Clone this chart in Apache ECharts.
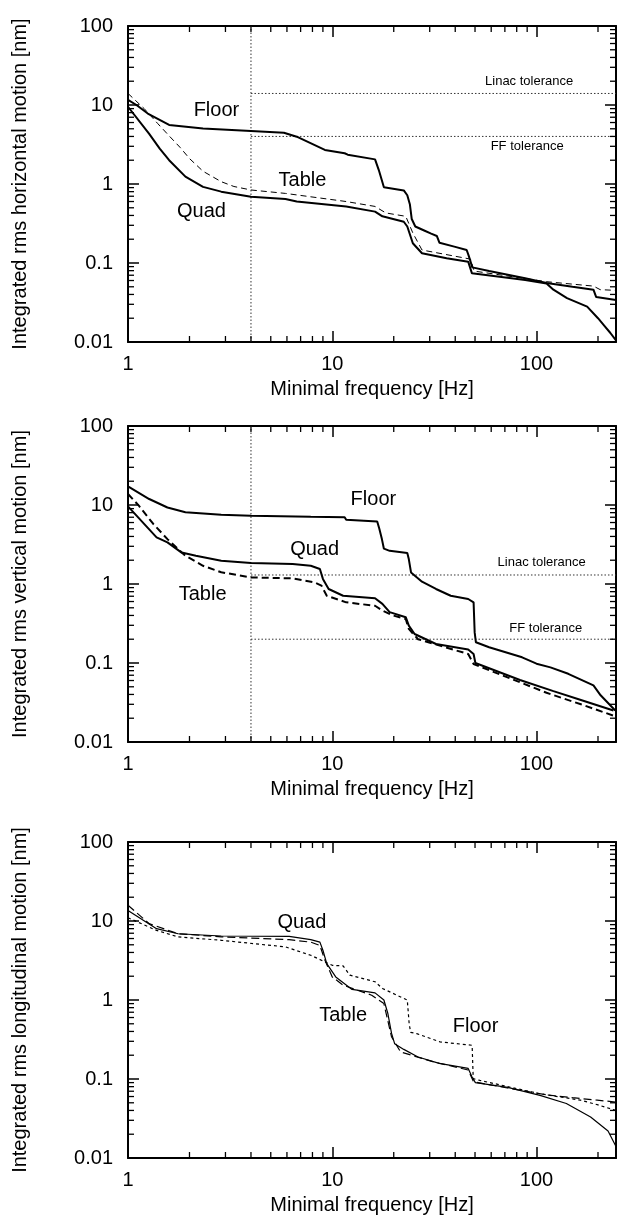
<!DOCTYPE html>
<html><head><meta charset="utf-8">
<script src="https://cdn.jsdelivr.net/npm/echarts@6/dist/echarts.min.js"></script>
<style>html,body{margin:0;padding:0;background:#fff}#c{width:621px;height:1226px}</style>
</head><body><div id="c"></div>
<script>
// ---------- axes ----------
const X_MIN = 1, X_MAX = 245, Y_MIN = 0.01, Y_MAX = 100;
const xTickLabels = ['1', '10', '100'];
const yTickLabels = ['0.01', '0.1', '1', '10', '100'];
const xMinorTicks = [2,3,4,5,6,7,8,9,20,30,40,50,60,70,80,90,200];
const yMinorTicks = [0.02,0.03,0.04,0.05,0.06,0.07,0.08,0.09,0.2,0.3,0.4,0.5,0.6,0.7,0.8,0.9,2,3,4,5,6,7,8,9,20,30,40,50,60,70,80,90];
const xTitle = 'Minimal frequency [Hz]';
const yTitles = ['Integrated rms horizontal motion [nm]', 'Integrated rms vertical motion [nm]', 'Integrated rms longitudinal motion [nm]'];

// ---------- panel 1: horizontal ----------
const hFloor = [[1,11.6],[1.1,10],[1.25,7.8],[1.59,5.6],[2.33,5.05],[4,4.7],[5.8,4.45],[6.7,3.97],[9.2,2.7],[11.5,2.45],[11.9,2.35],[16.2,2.05],[16.9,1.5],[17.9,0.91],[22.4,0.83],[23.3,0.72],[24,0.55],[24.5,0.36],[25.5,0.29],[28,0.26],[30.5,0.235],[32.5,0.22],[33.5,0.18],[40,0.16],[45.5,0.146],[46.5,0.125],[48.5,0.088],[58.6,0.079],[88,0.064],[112,0.056],[150,0.05],[190,0.046],[196,0.037],[245,0.034]];
const hQuad = [[1,9.5],[1.27,4.3],[1.43,2.8],[1.59,2.0],[1.91,1.24],[2.33,0.92],[2.86,0.8],[4,0.69],[5.9,0.645],[6.7,0.6],[11.7,0.52],[16.2,0.447],[17.6,0.39],[22.4,0.333],[23.3,0.29],[24.8,0.178],[27.5,0.133],[36.3,0.115],[46.3,0.104],[48.3,0.074],[88,0.061],[112,0.055],[121,0.046],[141,0.036],[177,0.028],[200,0.02],[215,0.016],[230,0.013],[245,0.0105]];
const hTable = [[1,14],[1.2,9],[1.4,5.8],[1.6,4.0],[1.8,2.9],[2,2.1],[2.33,1.45],[2.86,1.07],[3.3,0.93],[4,0.84],[5.9,0.76],[11.7,0.6],[16.2,0.52],[18.3,0.43],[22.9,0.39],[24.8,0.24],[27.5,0.146],[47.5,0.112],[49.5,0.079],[112,0.058],[190,0.051],[205,0.046],[245,0.045]];
const hTolerance = {linac: 14, ff: 4};
const hLabels = [['Floor',2.71,8.6],['Table',7.15,1.12],['Quad',2.29,0.45]];
const hTolLabels = [['Linac tolerance',92,20.1],['FF tolerance',90,2.97]];

// ---------- panel 2: vertical ----------
const vFloor = [[1,17.2],[1.27,11.9],[1.56,9.3],[1.91,8.1],[2.86,7.5],[4,7.3],[7.85,7.1],[11.5,7.0],[11.7,6.5],[16.6,6.2],[17.0,5.0],[17.5,3.7],[17.9,2.8],[19.1,2.63],[23.3,2.47],[23.7,2.07],[24.3,1.4],[27.5,1.07],[32.2,0.865],[38,0.71],[46.3,0.646],[49.2,0.586],[49.8,0.244],[50.5,0.183],[58.6,0.158],[85,0.118],[100,0.098],[117,0.088],[143,0.073],[190,0.052],[206,0.039],[243,0.025]];
const vQuad = [[1,9.6],[1.38,3.9],[1.56,3.36],[1.83,2.5],[2.15,2.28],[2.86,1.97],[4,1.84],[6.4,1.79],[7.85,1.7],[8.7,1.55],[9.0,1.16],[9.6,0.865],[11.3,0.71],[16.2,0.66],[17.6,0.56],[19.1,0.44],[22.9,0.38],[23.7,0.297],[25.3,0.233],[32.2,0.174],[46.3,0.148],[49.2,0.13],[50.2,0.1],[83,0.061],[121,0.044],[165,0.034],[238,0.025]];
const vTable = [[1,13.8],[1.13,9.8],[1.33,5.75],[1.56,3.7],[1.91,2.28],[2.33,1.7],[2.86,1.41],[4,1.21],[6.4,1.18],[8.16,1.05],[8.85,0.955],[9.4,0.71],[11.7,0.586],[16.2,0.53],[17.6,0.46],[19.8,0.4],[22.9,0.36],[23.7,0.27],[26.3,0.2],[46.3,0.13],[49.2,0.097],[53,0.09],[112,0.042],[165,0.03],[245,0.021]];
const vTolerance = {linac: 1.3, ff: 0.2};
const vLabels = [['Floor',15.9,11.9],['Quad',8.2,2.77],['Table',2.32,0.74]];
const vTolLabels = [['Linac tolerance',106,1.88],['FF tolerance',111,0.275]];

// ---------- panel 3: longitudinal ----------
const lQuad = [[1,13.6],[1.38,8.0],[1.76,6.9],[2.86,6.46],[6.15,6.4],[7.85,5.8],[8.7,5.4],[9.0,4.26],[9.4,2.89],[10.4,1.96],[12.5,1.36],[16.2,1.23],[17.9,1.0],[18.7,0.68],[19.5,0.38],[20.2,0.28],[22.4,0.237],[26.3,0.19],[33.4,0.158],[46.3,0.136],[48.3,0.107],[50.2,0.09],[72.3,0.0785],[104,0.062],[140,0.049],[184,0.033],[224,0.022],[245,0.014]];
const lTable = [[1,15.8],[1.27,9.25],[1.76,6.9],[2.86,6.3],[6.15,5.8],[7.85,5.4],[8.7,4.9],[9.2,3.2],[10,1.96],[11.3,1.54],[15.6,1.15],[17.9,0.9],[19.5,0.343],[21.6,0.22],[31,0.166],[46.3,0.13],[49.2,0.092],[72,0.077],[112,0.063],[150,0.058],[198,0.054],[245,0.051]];
const lFloor = [[1,11],[1.38,7.6],[1.76,6.3],[2.86,5.7],[5.9,4.7],[7.85,3.68],[10,2.75],[11.3,2.7],[12.2,2.06],[16.2,1.7],[17.6,1.4],[23.3,1.0],[23.8,0.5],[24.2,0.39],[25.9,0.376],[33.7,0.295],[48.4,0.267],[49,0.101],[52.8,0.096],[104,0.065],[164,0.054],[200,0.047],[245,0.04]];
const lLabels = [['Quad',7.1,9.7],['Table',11.3,0.64],['Floor',50.3,0.46]];

const refFreq = 4;

// ---------- build ----------
const FONT = "'Liberation Sans', Arial, Helvetica, sans-serif";
const tops = [26, 426, 842];
const H = 316;
const grids = [], xAxes = [], yAxes = [], series = [];

function fmt(v){ return String(+(+v).toPrecision(3)); }

function lineSeries(gi, data, width, type){
  series.push({type:'line', xAxisIndex: gi*2, yAxisIndex: gi*2, data, showSymbol:false, symbol:'none',
    lineStyle:{color:'#000', width, type}, silent:true, animation:false, z:5});
}
function refSeries(gi, data){
  series.push({type:'line', xAxisIndex: gi*2, yAxisIndex: gi*2, data, showSymbol:false, symbol:'none',
    lineStyle:{color:'#333', width:1, type:[1.5,2]}, silent:true, animation:false, z:3});
}
function textSeries(gi, items, size){
  series.push({type:'custom', xAxisIndex: gi*2, yAxisIndex: gi*2,
    data: items.map(t => [t[1], t[2]]), silent:true, animation:false, z:6, clip:false,
    renderItem: (params, api) => {
      const p = api.coord([api.value(0), api.value(1)]);
      return {type:'text', x:p[0], y:p[1], style:{text: items[params.dataIndex][0], fontSize:size,
        fontFamily:FONT, fill:'#000', align:'center', verticalAlign:'middle'}};
    }});
}
function minorTickSeries(gi){
  const data = xMinorTicks.filter(v => v <= X_MAX).map(v => [v, Y_MIN, 0])
    .concat(yMinorTicks.map(v => [X_MIN, v, 1]));
  series.push({type:'custom', xAxisIndex: gi*2, yAxisIndex: gi*2, data, silent:true, animation:false, z:4, clip:false,
    renderItem: (params, api) => {
      const kind = api.value(2);
      const L = 6;
      const st = {stroke:'#000', lineWidth:1.3};
      if (kind === 0) {
        const b = api.coord([api.value(0), Y_MIN]);
        const t = api.coord([api.value(0), Y_MAX]);
        return {type:'group', children:[
          {type:'line', shape:{x1:b[0], y1:b[1], x2:b[0], y2:b[1]-L}, style:st},
          {type:'line', shape:{x1:t[0], y1:t[1], x2:t[0], y2:t[1]+L}, style:st}]};
      } else {
        const l = api.coord([X_MIN, api.value(1)]);
        const r = api.coord([X_MAX, api.value(1)]);
        return {type:'group', children:[
          {type:'line', shape:{x1:l[0], y1:l[1], x2:l[0]+L, y2:l[1]}, style:st},
          {type:'line', shape:{x1:r[0], y1:r[1], x2:r[0]-L, y2:r[1]}, style:st}]};
      }
    }});
}

tops.forEach((top, gi) => {
  grids.push({left:128, right:5, top, height:H, containLabel:false});
  const axLine = {show:true, onZero:false, lineStyle:{color:'#000', width:2}};
  const tick = {show:true, inside:true, length:11, lineStyle:{color:'#000', width:1.5}};
  xAxes.push({type:'log', logBase:10, gridIndex:gi, position:'bottom', min:X_MIN, max:X_MAX,
    axisLine:axLine, axisTick:tick, splitLine:{show:false},
    axisLabel:{show:true, margin:12, fontSize:20, color:'#000', fontFamily:FONT, showMaxLabel:false,
      formatter: v => xTickLabels.includes(fmt(v)) ? fmt(v) : ''},
    name:xTitle, nameLocation:'middle', nameGap:37,
    nameTextStyle:{fontSize:20, color:'#000', fontFamily:FONT}});
  xAxes.push({type:'log', logBase:10, gridIndex:gi, position:'top', min:X_MIN, max:X_MAX,
    axisLine:axLine, axisTick:tick, axisLabel:{show:false}, splitLine:{show:false}});
  yAxes.push({type:'log', logBase:10, gridIndex:gi, position:'left', min:Y_MIN, max:Y_MAX,
    axisLine:axLine, axisTick:tick, splitLine:{show:false},
    axisLabel:{show:true, margin:15, fontSize:20, color:'#000', fontFamily:FONT,
      formatter: v => yTickLabels.includes(fmt(v)) ? fmt(v) : ''},
    name:yTitles[gi], nameLocation:'middle', nameGap:98, nameRotate:90,
    nameTextStyle:{fontSize:20, color:'#000', fontFamily:FONT}});
  yAxes.push({type:'log', logBase:10, gridIndex:gi, position:'right', min:Y_MIN, max:Y_MAX,
    axisLine:axLine, axisTick:tick, axisLabel:{show:false}, splitLine:{show:false}});
  minorTickSeries(gi);
});

// panel 1
refSeries(0, [[refFreq, Y_MIN],[refFreq, Y_MAX]]);
refSeries(0, [[refFreq, hTolerance.linac],[X_MAX, hTolerance.linac]]);
refSeries(0, [[refFreq, hTolerance.ff],[X_MAX, hTolerance.ff]]);
lineSeries(0, hFloor, 2, 'solid');
lineSeries(0, hQuad, 2, 'solid');
lineSeries(0, hTable, 1, [6,4]);
textSeries(0, hLabels, 20);
textSeries(0, hTolLabels, 13);
// panel 2
refSeries(1, [[refFreq, Y_MIN],[refFreq, Y_MAX]]);
refSeries(1, [[refFreq, vTolerance.linac],[X_MAX, vTolerance.linac]]);
refSeries(1, [[refFreq, vTolerance.ff],[X_MAX, vTolerance.ff]]);
lineSeries(1, vFloor, 2, 'solid');
lineSeries(1, vQuad, 2, 'solid');
lineSeries(1, vTable, 2, [7,4]);
textSeries(1, vLabels, 20);
textSeries(1, vTolLabels, 13);
// panel 3
lineSeries(2, lQuad, 1.2, 'solid');
lineSeries(2, lTable, 1.2, [8,4]);
lineSeries(2, lFloor, 1.2, [3,3]);
textSeries(2, lLabels, 20);

const chart = echarts.init(document.getElementById('c'), null, {renderer:'canvas'});
chart.setOption({backgroundColor:'#fff', animation:false, grid:grids, xAxis:xAxes, yAxis:yAxes, series});
</script></body></html>
